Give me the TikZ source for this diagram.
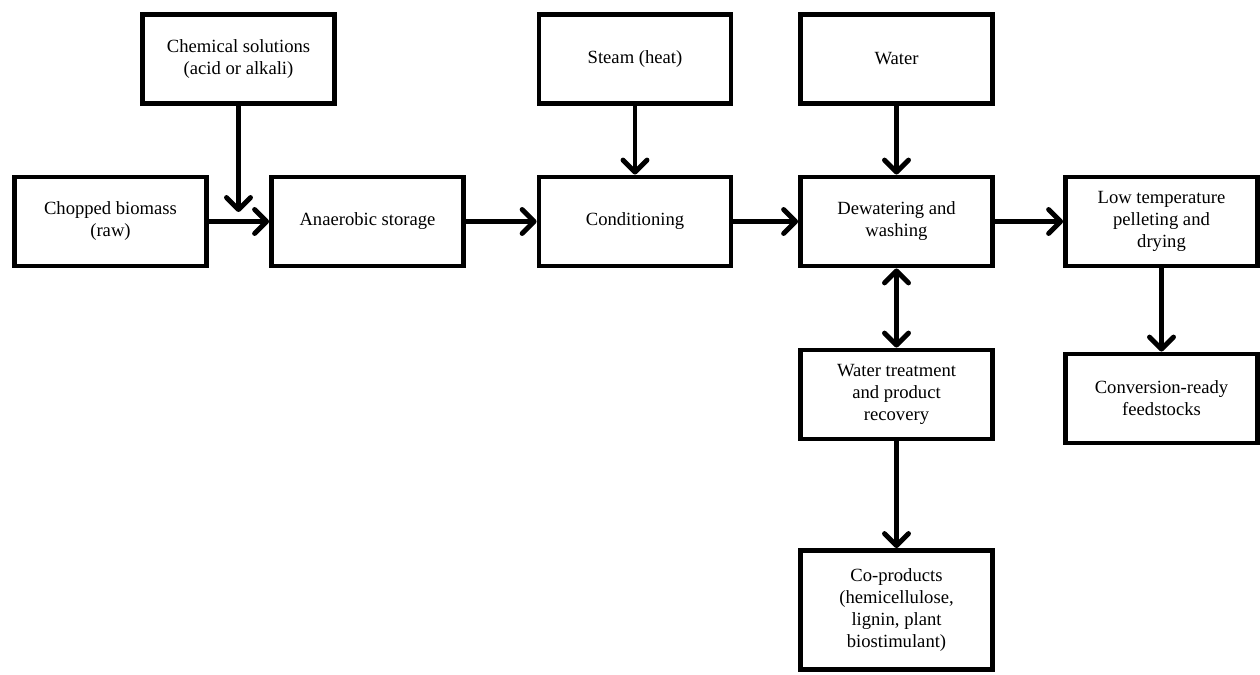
\documentclass[tikz,border=0pt]{standalone}
\usepackage{fontspec}
\setmainfont{Liberation Serif}
\usetikzlibrary{arrows.meta}

\begin{document}
\begin{tikzpicture}[x=0.02cm, y=-0.02cm,
    procbox/.style={draw, line width=2.8pt, minimum width=3.84cm, minimum height=1.78cm,
        align=center, inner sep=2pt, font=\fontsize{10.6}{12.5}\selectfont},
    flow/.style={line width=2.8pt, -{Straight Barb[length=0.24cm, width=0.48cm, line cap=round, line join=round]}},
    twoway/.style={flow, {Straight Barb[length=0.24cm, width=0.48cm, line cap=round, line join=round]}-{Straight Barb[length=0.24cm, width=0.48cm, line cap=round, line join=round]}}]

    \useasboundingbox (0,0) rectangle (1260,675);

    % Top row (inputs)
    \node[procbox] (chem)  at (238.5,59) {Chemical solutions\\(acid or alkali)};
    \node[procbox] (steam) at (635,59)   {Steam (heat)};
    \node[procbox] (water) at (896.5,59) {Water};

    %-------------
    % Main line
    \node[procbox] (chop) at (110.5,221.5)  {Chopped biomass\\(raw)};
    \node[procbox] (anae) at (367.5,221.5)  {Anaerobic storage};
    \node[procbox] (cond) at (635,221.5)    {Conditioning};
    \node[procbox] (dew)  at (896.5,221.5)  {Dewatering and\\washing};
    \node[procbox] (low)  at (1161.5,221.5) {Low temperature\\pelleting and\\drying};

    %-------------
    % Lower boxes
    \node[procbox] (wtr)  at (896.5,394.5)  {Water treatment\\and product\\recovery};
    \node[procbox] (conv) at (1161.5,398.5) {Conversion-ready\\feedstocks};
    \node[procbox, minimum height=2.38cm] (cop) at (896.5,610)
        {Co-products\\(hemicellulose,\\lignin, plant\\biostimulant)};

    \coordinate (chemend) at (238.5,212);

    %-------------
    % Arrows
    \draw[flow] (chem.south) -- (chemend);
    \draw[flow] (chop) -- (anae);
    \draw[flow] (anae) -- (cond);
    \draw[flow] (cond) -- (dew);
    \draw[flow] (dew) -- (low);
    \draw[flow] (steam) -- (cond);
    \draw[flow] (water) -- (dew);
    \draw[twoway] (dew) -- (wtr);
    \draw[flow] (wtr) -- (cop);
    \draw[flow] (low) -- (conv);

\end{tikzpicture}
\end{document}
